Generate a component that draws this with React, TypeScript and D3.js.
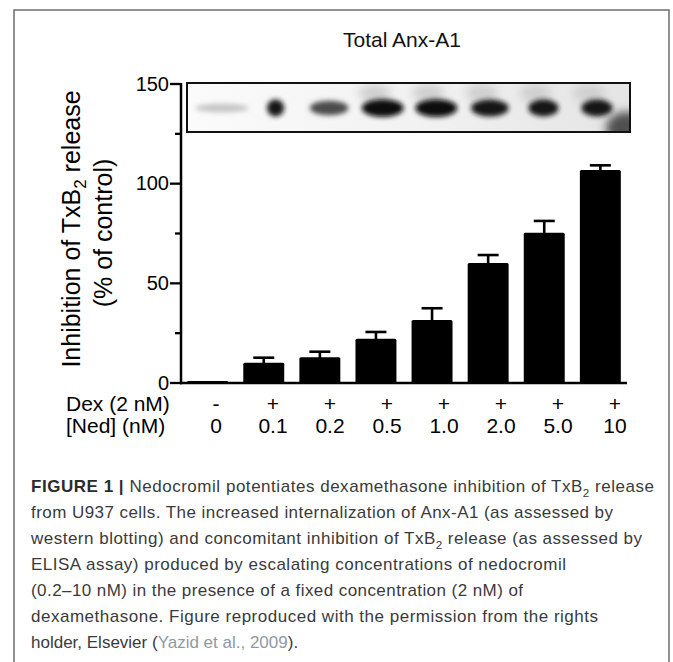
import * as d3 from 'd3';

// Ned concentration (nM) per lane, and whether Dex (2 nM) was added
const doses = ['0', '0.1', '0.2', '0.5', '1.0', '2.0', '5.0', '10'];
const dexFlags = ['-', '+', '+', '+', '+', '+', '+', '+'];

// Inhibition of TxB2 release (% of control), mean and SEM
const inhibition = [1, 10.2, 12.9, 22.2, 31.6, 60.2, 75.4, 106.9];
const sem = [0, 2.5, 2.8, 3.4, 5.9, 4.0, 5.9, 2.3];

const majorTicks = [0, 50, 100, 150];
const minorTicks = [25, 75, 125];

// western blot (Total Anx-A1): band density and horizontal spread per lane
const blotDensity = [0.22, 0.92, 0.72, 0.97, 0.97, 0.93, 0.92, 0.92];
const blotSpread = [1.0, 0.32, 0.72, 0.78, 0.78, 0.7, 0.56, 0.58];

type Seg = { t: string; bold?: boolean; sub?: boolean; link?: boolean };
const captionLines: Seg[][] = [
  [{ t: 'FIGURE 1 | ', bold: true }, { t: 'Nedocromil potentiates dexamethasone inhibition of TxB' }, { t: '2', sub: true }, { t: ' release' }],
  [{ t: 'from U937 cells. The increased internalization of Anx-A1 (as assessed by' }],
  [{ t: 'western blotting) and concomitant inhibition of TxB' }, { t: '2', sub: true }, { t: ' release (as assessed by' }],
  [{ t: 'ELISA assay) produced by escalating concentrations of nedocromil' }],
  [{ t: '(0.2–10 nM) in the presence of a fixed concentration (2 nM) of' }],
  [{ t: 'dexamethasone. Figure reproduced with the permission from the rights' }],
  [{ t: 'holder, Elsevier (' }, { t: 'Yazid et al., 2009', link: true }, { t: ').' }],
];
const captionWidths = [623, 582, 611, 535, 492, 567, 0];

const FONT = 'Arial, "Liberation Sans", Helvetica, sans-serif';

function renderSegs(segs: Seg[], size: number) {
  const out: JSX.Element[] = [];
  let shifted = false;
  segs.forEach((s, i) => {
    let dy: number | undefined;
    if (s.sub) { dy = size * 0.3; shifted = true; }
    else if (shifted) { dy = -size * 0.3; shifted = false; }
    out.push(
      <tspan key={i} dy={dy}
        fontWeight={s.bold ? 700 : 400}
        fontSize={s.sub ? size * 0.68 : size}
        fill={s.link ? '#8d9aa5' : s.bold ? '#2b2b2b' : '#3a3a3a'}>
        {s.t}
      </tspan>
    );
  });
  return out;
}

export default function App() {
  const W = 673, H = 662;

  const x = d3.scaleBand<string>().domain(doses).range([181, 627]).paddingInner(0.27).paddingOuter(0.11);
  const y = d3.scaleLinear().domain([0, 150]).range([383, 84]);
  const labelX = d3.scalePoint<string>().domain(doses).range([216, 615]);
  const laneX = d3.scalePoint<string>().domain(doses).range([222, 597]);
  const laneStep = laneX.step();
  const bw = x.bandwidth();

  const blot = { x0: 187, x1: 630, y0: 83, y1: 132 };
  const bandY = 108;

  return (
    <svg width={W} height={H} viewBox={`0 0 ${W} ${H}`}
      style={{ position: 'absolute', left: 0, top: 0, background: '#fff' }}
      fontFamily={FONT}>
      <defs>
        <filter id="blur" x="-50%" y="-50%" width="200%" height="200%">
          <feGaussianBlur stdDeviation="2.6" />
        </filter>
        <filter id="blurWide" x="-50%" y="-50%" width="200%" height="200%">
          <feGaussianBlur stdDeviation="5" />
        </filter>
        <clipPath id="blotClip">
          <rect x={blot.x0} y={blot.y0} width={blot.x1 - blot.x0} height={blot.y1 - blot.y0} />
        </clipPath>
        <linearGradient id="blotBg" x1="0" x2="1" y1="0" y2="0">
          <stop offset="0%" stopColor="#fbfbfb" />
          <stop offset="55%" stopColor="#f1f1f1" />
          <stop offset="100%" stopColor="#e4e4e4" />
        </linearGradient>
      </defs>

      <rect x={0} y={0} width={W} height={H} fill="#fff" />
      {/* figure frame */}
      <rect x={14} y={10} width={655} height={700} fill="none" stroke="#6d6d6d" strokeWidth={1.5} />

      {/* blot title */}
      <text x={402} y={47} textAnchor="middle" fontSize={21} fill="#111">Total Anx-A1</text>

      {/* western blot strip */}
      <g clipPath="url(#blotClip)">
        <rect x={blot.x0} y={blot.y0} width={blot.x1 - blot.x0} height={blot.y1 - blot.y0} fill="url(#blotBg)" />
        {doses.map((d, i) => i >= 3 ? (
          <ellipse key={'g' + d} cx={laneX(d)! - laneStep * 0.15} cy={blot.y0 + 10}
            rx={laneStep * 0.3} ry={9} fill="#cfcfcf" filter="url(#blurWide)" />
        ) : null)}
        {doses.map((d, i) => (
          <ellipse key={'b' + d} cx={laneX(d)} cy={bandY}
            rx={(laneStep * blotSpread[i]) / 2}
            ry={3 + 6 * blotDensity[i]}
            fill={d3.interpolateGreys(0.15 + 0.85 * blotDensity[i])}
            filter="url(#blur)" />
        ))}
        <ellipse cx={blot.x1 - 4} cy={blot.y1 - 4} rx={20} ry={16} fill="#505050" filter="url(#blurWide)" />
      </g>
      <rect x={blot.x0} y={blot.y0} width={blot.x1 - blot.x0} height={blot.y1 - blot.y0}
        fill="none" stroke="#111" strokeWidth={2} />

      {/* bars */}
      {doses.map((d, i) => (
        <rect key={'bar' + d} x={x(d)} y={y(inhibition[i])} width={bw}
          height={y(0) - y(inhibition[i])} rx={1.5} fill="#000" />
      ))}
      {/* SEM error bars */}
      {doses.map((d, i) => {
        if (sem[i] <= 0) return null;
        const cx = x(d)! + bw / 2;
        const top = y(inhibition[i] + sem[i]);
        return (
          <g key={'err' + d} stroke="#000" strokeWidth={2.6}>
            <line x1={cx} x2={cx} y1={y(inhibition[i]) + 1} y2={top} />
            <line x1={cx - 10.5} x2={cx + 10.5} y1={top} y2={top} />
          </g>
        );
      })}

      {/* y axis */}
      <line x1={181} x2={181} y1={y(150) - 1} y2={y(0) + 1.2} stroke="#000" strokeWidth={2.5} />
      {majorTicks.map(t => (
        <g key={'t' + t}>
          <line x1={170} x2={181} y1={y(t)} y2={y(t)} stroke="#000" strokeWidth={2.3} />
          <text x={169} y={y(t)} dy="0.34em" textAnchor="end" fontSize={20} fill="#000">{t}</text>
        </g>
      ))}
      {minorTicks.map(t => (
        <line key={'m' + t} x1={175} x2={181} y1={y(t)} y2={y(t)} stroke="#000" strokeWidth={2.3} />
      ))}
      {/* x axis */}
      <line x1={180} x2={627} y1={y(0)} y2={y(0)} stroke="#000" strokeWidth={2.5} />

      {/* y axis titles */}
      <text transform="translate(80,229) rotate(-90)" textAnchor="middle" fontSize={25} fill="#000">
        Inhibition of TxB<tspan dy={6} fontSize={17}>2</tspan><tspan dy={-6}> release</tspan>
      </text>
      <text transform="translate(112,233) rotate(-90)" textAnchor="middle" fontSize={25} fill="#000">
        (% of control)
      </text>

      {/* treatment rows */}
      <text x={66} y={411} fontSize={21} fill="#000">Dex (2 nM)</text>
      <text x={66} y={433} fontSize={21} fill="#000">[Ned] (nM)</text>
      {doses.map((d, i) => (
        <g key={'lab' + d}>
          <text x={labelX(d)} y={411} textAnchor="middle" fontSize={21} fill="#000">{dexFlags[i]}</text>
          <text x={labelX(d)} y={433} textAnchor="middle" fontSize={21} fill="#000">{d}</text>
        </g>
      ))}

      {/* caption */}
      {captionLines.map((segs, i) => (
        <text key={'cap' + i} x={31} y={492 + i * 26} fontSize={17}
          textLength={captionWidths[i] || undefined} lengthAdjust="spacing">
          {renderSegs(segs, 17)}
        </text>
      ))}
    </svg>
  );
}
